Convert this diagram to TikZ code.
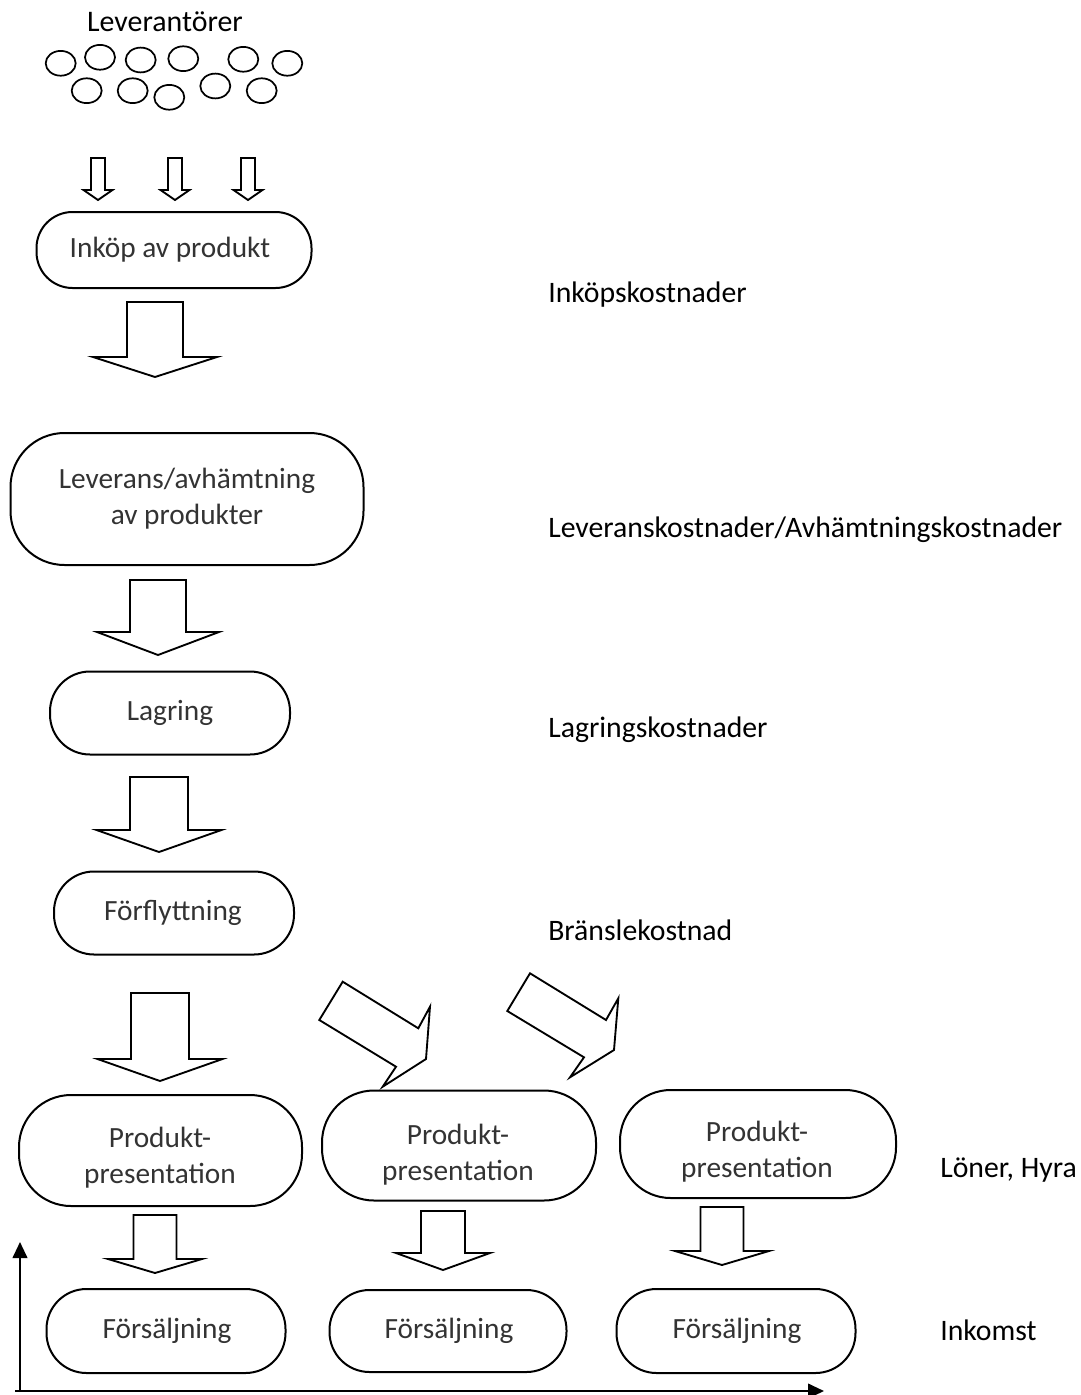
\documentclass[tikz,border=0pt]{standalone}
\usepackage{fontspec}
\setmainfont{Carlito}
\usetikzlibrary{arrows.meta}
\newcommand\blkdown[6]{%
  \draw[blk] ({#1-#3/2},#2) -- ({#1+#3/2},#2) -- ({#1+#3/2},#4) -- ({#1+#5/2},#4)
    -- (#1,#6) -- ({#1-#5/2},#4) -- ({#1-#3/2},#4) -- cycle;}
\begin{document}
\begin{tikzpicture}[x=0.75pt,y=-0.75pt,
  box/.style={draw, line width=1.5pt, rectangle, inner sep=0pt},
  txt/.style={inner sep=0pt, text=black!80, align=center, font=\fontsize{22}{27}\selectfont},
  lbl/.style={inner sep=0pt, anchor=west, text=black, font=\fontsize{22.3}{27}\selectfont},
  blk/.style={draw, line width=1.4pt, fill=white, line join=miter},
  sup/.style={draw, line width=1.3pt},
  axis/.style={line width=1.5pt, -{Triangle[length=12pt,width=11pt]}}]
\useasboundingbox (0,0) rectangle (1081,1395);

% suppliers
\node[inner sep=0pt, font=\fontsize{22.4}{27}\selectfont] (lev) at (165,22) {Leverantörer};
\foreach \cx/\cy in {60.7/63.3, 100/57.3, 140.7/60, 183.3/58.7, 243.3/59.3, 287.3/63.3,
                     86.7/90.7, 132.7/90.7, 169.3/97.3, 215.3/86, 261.7/90.7}
  \draw[sup] (\cx,\cy) ellipse [x radius=11.25pt, y radius=9.3pt];

% small arrows
\blkdown{98}{158}{14}{190}{29}{200}
\blkdown{175}{158}{14}{190}{29}{200}
\blkdown{248}{158}{14}{190}{29}{200}

% boxes
\node[box, minimum width=206.25pt, minimum height=57pt, rounded corners=27pt] (b1) at (174,250) {};
\node[box, minimum width=264.75pt, minimum height=99pt, rounded corners=40.5pt] (b2) at (187,499) {};
\node[box, minimum width=180pt, minimum height=62.25pt, rounded corners=30pt] (b3) at (170,713) {};
\node[box, minimum width=180pt, minimum height=62.25pt, rounded corners=30pt] (b4) at (174,913) {};
\node[box, minimum width=212.25pt, minimum height=83.25pt, rounded corners=39pt] (b5) at (160.5,1150.5) {};
\node[box, minimum width=205.5pt, minimum height=82.5pt, rounded corners=39pt] (b6) at (459,1145.5) {};
\node[box, minimum width=207pt, minimum height=81pt, rounded corners=38pt] (b7) at (758,1144) {};
\node[box, minimum width=179.25pt, minimum height=63pt, rounded corners=30pt] (b8) at (166,1331) {};
\node[box, minimum width=177.75pt, minimum height=61.5pt, rounded corners=30pt] (b9) at (448,1331) {};
\node[box, minimum width=179.25pt, minimum height=63pt, rounded corners=30pt] (b10) at (736,1331) {};

% box texts
\node[txt] (t1) at (170,250) {Inköp av produkt};
\node[txt] (t2) at (187,499) {Leverans/avhämtning\\av produkter};
\node[txt] (t3) at (170,713) {Lagring};
\node[txt] (t4) at (173,913) {Förflyttning};
\node[txt] (t5) at (160,1158) {Produkt-\\presentation};
\node[txt] (t6) at (458,1155) {Produkt-\\presentation};
\node[txt] (t7) at (757,1152) {Produkt-\\presentation};
\node[txt] (t8) at (167,1331) {Försäljning};
\node[txt] (t9) at (449,1331) {Försäljning};
\node[txt] (t10) at (737,1331) {Försäljning};

% big arrows
\blkdown{155}{302}{56}{357}{124}{377}
\blkdown{158}{580}{56}{632}{122}{655}
\blkdown{159}{777}{58}{830}{125}{852}
\blkdown{160}{993}{58}{1059}{125}{1081}
\blkdown{155}{1215}{43}{1259}{94}{1273}
\blkdown{443}{1211}{44}{1253}{94}{1270}
\blkdown{722}{1207}{43}{1251}{94}{1265}

% diagonal arrows
\draw[blk] (342.7,981.7) -- (418.3,1028.3) -- (430,1006.7) -- (426,1059) -- (382.7,1086.7)
  -- (396,1066.7) -- (319.3,1020) -- cycle;
\draw[blk] (530,973.3) -- (606,1020) -- (618.3,998.3) -- (614,1050) -- (570,1077.3)
  -- (584,1057.3) -- (507.3,1011) -- cycle;

% right labels
\node[lbl] (c1) at (548,295) {Inköpskostnader};
\node[lbl] (c2) at (548,530) {Leveranskostnader/Avhämtningskostnader};
\node[lbl] (c3) at (548,730) {Lagringskostnader};
\node[lbl] (c4) at (548,930) {Bränslekostnad};
\node[lbl] (c5) at (940,1170) {Löner, Hyra};
\node[lbl] (c6) at (940,1330) {Inkomst};

% axes
\coordinate (ox) at (15,1391);
\coordinate (oy) at (20,1392);
\coordinate (xend) at (824,1391);
\coordinate (yend) at (20,1242);
\draw[axis] (ox) -- (xend);
\draw[axis] (oy) -- (yend);
\end{tikzpicture}
\end{document}
